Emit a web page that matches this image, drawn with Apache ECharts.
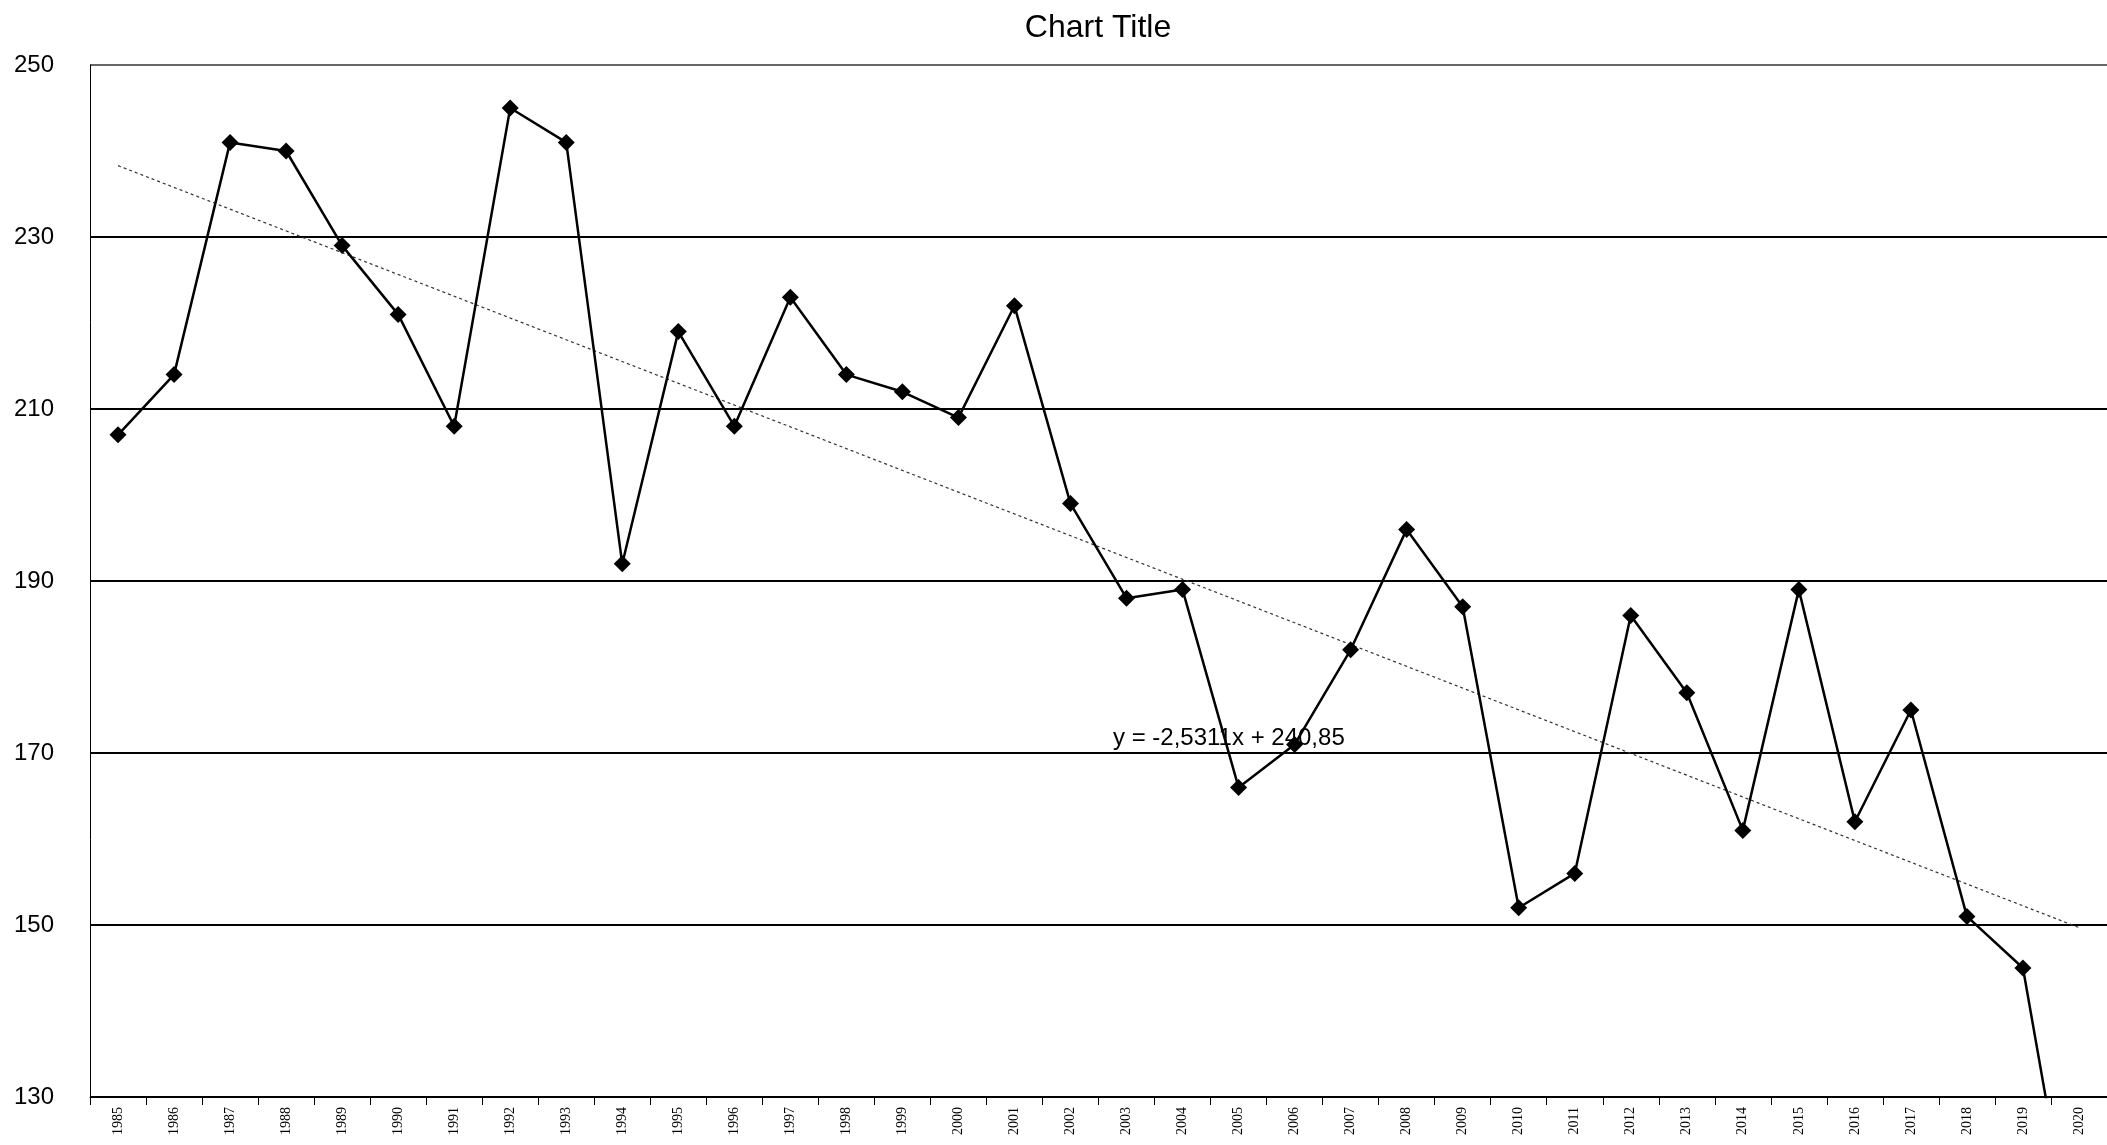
<!DOCTYPE html><html><head><meta charset="utf-8"><script src="https://cdn.jsdelivr.net/npm/echarts@6/dist/echarts.min.js"></script>
<style>html,body{margin:0;background:#fff}#c{width:2107px;height:1145px}</style></head><body><div id="c"></div><script>
const years=[];for(let y=1985;y<=2020;y++)years.push(String(y));
const values=[207,214,241,240,229,221,208,245,241,192,219,208,223,214,212,209,222,199,188,189,166,171,182,196,187,152,156,186,177,161,189,162,175,151,145,108];
const trendStart=238.3, trendEnd=149.7;
const trend=years.map((y,i)=>i===0?trendStart:(i===years.length-1?trendEnd:null));
const c=echarts.init(document.getElementById('c'));
c.setOption({animation:false,
grid:{left:90,right:0,top:65,bottom:48},
xAxis:{type:'category',data:years,boundaryGap:true,axisLine:{lineStyle:{color:'#000',width:1}},axisTick:{show:true,length:8,lineStyle:{color:'#000'}},
axisLabel:{rotate:90,fontFamily:'Liberation Serif',fontSize:14,color:'#000',margin:10}},
yAxis:{type:'value',min:130,max:250,interval:20,axisLine:{show:true,lineStyle:{color:'#000'}},axisTick:{show:false},
axisLabel:{fontFamily:'Liberation Sans',fontSize:24,color:'#000',margin:36},
splitLine:{lineStyle:{color:['#000','#000','#000','#000','#000','#000','#666'],width:2}}},
graphic:[{type:'text',x:1098,y:12,style:{text:'Chart Title',font:'32px Liberation Sans',fill:'#000',textAlign:'center'}},
{type:'text',left:1113,top:726,style:{text:'y = -2,5311x + 240,85',font:'24px Liberation Sans',fill:'#000'}}],
series:[{type:'line',data:trend,connectNulls:true,symbol:'none',lineStyle:{color:'#333',width:1.2,type:[3,3]},z:1},
{type:'line',data:values,symbol:'diamond',symbolSize:17,itemStyle:{color:'#000'},lineStyle:{color:'#000',width:2.5},z:3,clip:true}]
});
</script></body></html>
